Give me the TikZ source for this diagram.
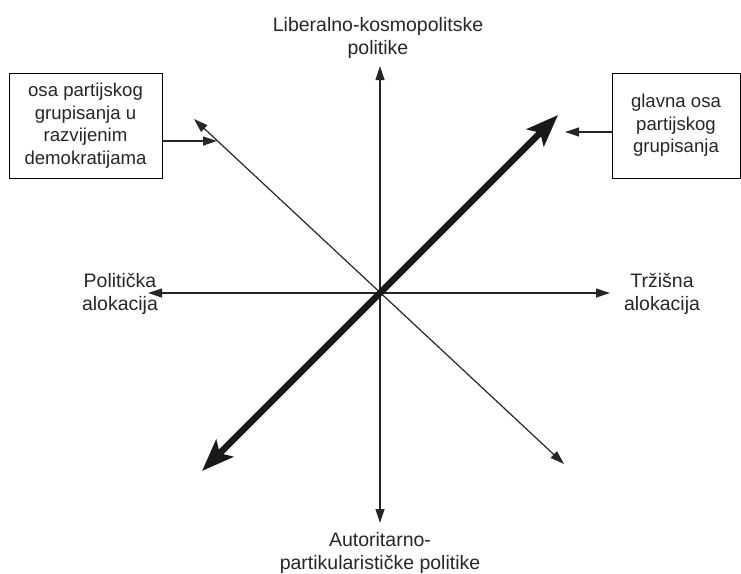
\documentclass[tikz,border=0pt]{standalone}
\usepackage{fontspec}
\setmainfont{Liberation Sans}
\usetikzlibrary{arrows.meta}
\begin{document}
\begin{tikzpicture}[x=1pt,y=-1pt,
  lbl/.style={align=center,inner sep=0pt,font=\fontsize{19.5pt}{23pt}\selectfont,text=black!85},
  boxn/.style={align=center,inner sep=0pt,font=\fontsize{18.6pt}{22.6pt}\selectfont,text=black!85,draw,line width=1pt,minimum width=153pt,minimum height=105pt},
  thin/.style={line width=1.2pt,black!85,-{Triangle[length=14pt,width=9pt]}},
  axis/.style={line width=1.2pt,black!85,{Triangle[length=14pt,width=9pt]}-{Triangle[length=14pt,width=9pt]}},
  thick/.style={line width=6.5pt,black!90,{Stealth[length=32pt,width=24pt,inset=7pt]}-{Stealth[length=32pt,width=24pt,inset=7pt]}}]
\useasboundingbox (0,0) rectangle (741,573);
% points
\coordinate (top) at (380,66);
\coordinate (bot) at (380,523);
\coordinate (lft) at (148,293);
\coordinate (rgt) at (610,293);
\coordinate (tl) at (194,119);
\coordinate (br) at (564,464);
\coordinate (tr) at (558,115);
\coordinate (bl) at (202,471);
\coordinate (ltip) at (217,141);
\coordinate (rtip) at (565,132);
% labels
\node[lbl] (ttop) at (378,38) {Liberalno-kosmopolitske\\politike};
\node[lbl] (tbot) at (380,553) {Autoritarno-\\partikularističke politike};
\node[lbl] (tlft) at (120,294) {Politička\\alokacija};
\node[lbl] (trgt) at (662,294) {Tržišna\\alokacija};
\node[boxn] (lbox) at (85.5,125.5) {osa partijskog\\grupisanja u\\razvijenim\\demokratijama};
\node[boxn,minimum width=128pt,minimum height=105pt] (rbox) at (676,125.5) {glavna osa\\partijskog\\grupisanja};
% axes
\draw[axis] (lft) -- (rgt);
\draw[axis] (bot) -- (top);
\draw[axis] (tl) -- (br);
\draw[thick] (bl) -- (tr);
% pointers
\draw[thin] (lbox.east |- ltip) -- (ltip);
\draw[thin] (rbox.west |- rtip) -- (rtip);
\end{tikzpicture}
\end{document}
